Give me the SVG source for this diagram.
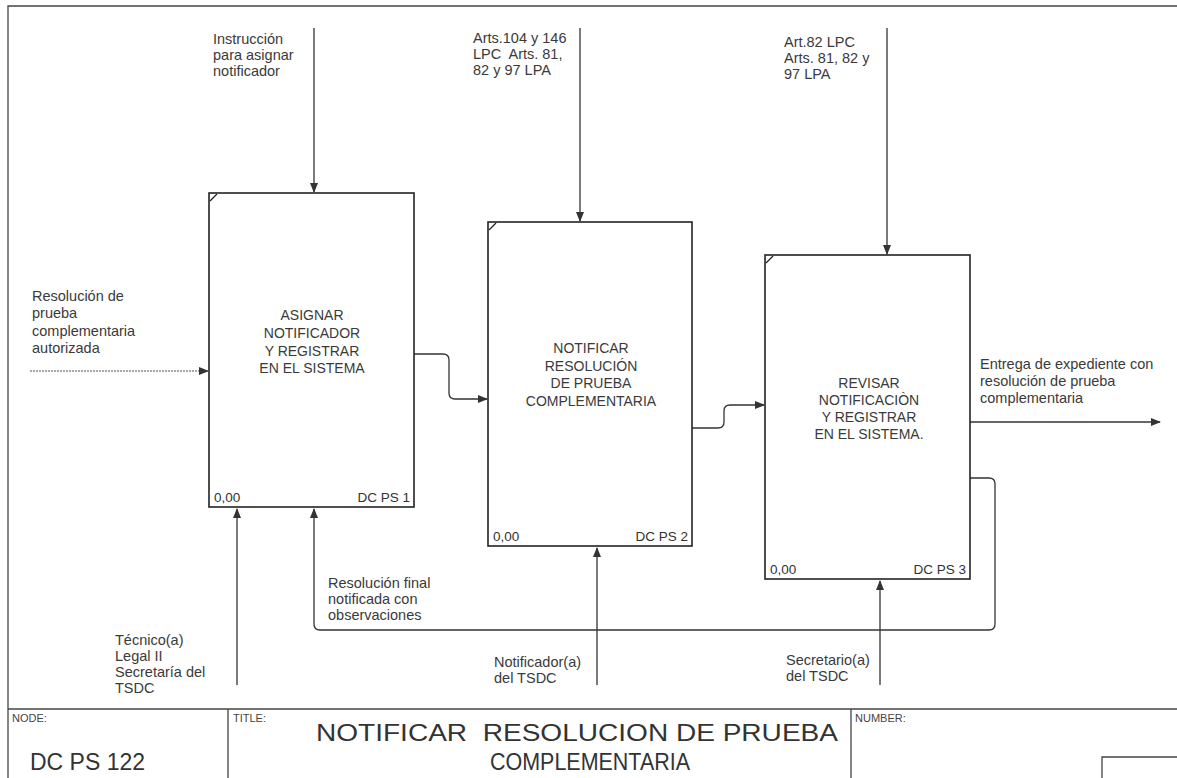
<svg xmlns="http://www.w3.org/2000/svg" width="1177" height="778" viewBox="0 0 1177 778">
<defs>
<marker id="ah" markerWidth="10" markerHeight="8" refX="9" refY="4" orient="auto" markerUnits="userSpaceOnUse">
<path d="M0,0 L10,4 L0,8 Z" fill="#333"/>
</marker>
<style>
.frame{fill:none;stroke:#444;stroke-width:1.3}
.box{fill:#fff;stroke:#222;stroke-width:1.6}
.tick{fill:none;stroke:#222;stroke-width:1.2}
.c{fill:none;stroke:#333;stroke-width:1.3;marker-end:url(#ah)}
.cl{fill:none;stroke:#555;stroke-width:1.1;marker-end:url(#ah)}
.lbl{font-family:"Liberation Sans",Arial,sans-serif;font-size:14.5px;fill:#3a3a3a}
.bt{font-family:"Liberation Sans",Arial,sans-serif;font-size:14px;fill:#3a3a3a;text-anchor:middle}
.corner{font-family:"Liberation Sans",Arial,sans-serif;font-size:13.5px;fill:#333}
.small{font-family:"Liberation Sans",Arial,sans-serif;font-size:11px;fill:#444}
.big{font-family:"Liberation Sans",Arial,sans-serif;font-size:23px;fill:#333}
</style>
</defs>
<rect width="1177" height="778" fill="#fff"/>

<g id="frame">
<path class="frame" d="M1177,6 L8,6 L8,778"/>
<line class="frame" x1="8" y1="709" x2="1177" y2="709"/>
<line class="frame" x1="228" y1="709" x2="228" y2="778"/>
<line class="frame" x1="851" y1="709" x2="851" y2="778"/>
<path class="frame" d="M1102,778 L1102,757 L1177,757"/>
<text class="small" x="12" y="722">NODE:</text>
<text class="big" x="30" y="770">DC PS 122</text>
<text class="small" x="233" y="722">TITLE:</text>
<text class="big" x="316" y="741" textLength="522" lengthAdjust="spacingAndGlyphs">NOTIFICAR&#160; RESOLUCION DE PRUEBA</text>
<text class="big" x="490" y="770" textLength="200" lengthAdjust="spacingAndGlyphs">COMPLEMENTARIA</text>
<text class="small" x="855" y="722">NUMBER:</text>
</g>

<g id="connectors">
<line class="c" x1="314" y1="28" x2="314" y2="192"/>
<line class="c" x1="580" y1="28" x2="580" y2="221"/>
<line class="c" x1="887" y1="28" x2="887" y2="254"/>
<line class="cl" x1="30" y1="371" x2="208" y2="371" stroke-dasharray="2,1"/>
<path class="c" d="M414,354 L443,354 Q449,354 449,360 L449,393 Q449,399 455,399 L487,399"/>
<path class="c" d="M692,428 L718,428 Q724,428 724,422 L724,411 Q724,405 730,405 L764,405"/>
<line class="c" x1="970" y1="422" x2="1160" y2="422"/>
<path class="c" d="M970,478 L989,478 Q995,478 995,484 L995,624 Q995,630 989,630 L320,630 Q314,630 314,624 L314,509"/>
<line class="c" x1="237" y1="685" x2="237" y2="509"/>
<line class="c" x1="597" y1="685" x2="597" y2="548"/>
<line class="c" x1="880" y1="685" x2="880" y2="581"/>
</g>

<g id="n1">
<rect class="box" x="209" y="193" width="205" height="314"/>
<path class="tick" d="M210,201 L217,194"/>
<text class="bt" x="312" y="320">ASIGNAR</text>
<text class="bt" x="312" y="338">NOTIFICADOR</text>
<text class="bt" x="312" y="356">Y REGISTRAR</text>
<text class="bt" x="312" y="373">EN EL SISTEMA</text>
<text class="corner" x="214" y="502">0,00</text>
<text class="corner" x="410" y="502" text-anchor="end">DC PS 1</text>
</g>

<g id="n2">
<rect class="box" x="488" y="222" width="204" height="324"/>
<path class="tick" d="M489,230 L496,223"/>
<text class="bt" x="591" y="353">NOTIFICAR</text>
<text class="bt" x="591" y="371">RESOLUCIÓN</text>
<text class="bt" x="591" y="388">DE PRUEBA</text>
<text class="bt" x="591" y="406">COMPLEMENTARIA</text>
<text class="corner" x="493" y="541">0,00</text>
<text class="corner" x="688" y="541" text-anchor="end">DC PS 2</text>
</g>

<g id="n3">
<rect class="box" x="765" y="255" width="205" height="324"/>
<path class="tick" d="M766,263 L773,256"/>
<text class="bt" x="869" y="388">REVISAR</text>
<text class="bt" x="869" y="405">NOTIFICACIÒN</text>
<text class="bt" x="869" y="422">Y REGISTRAR</text>
<text class="bt" x="869" y="439">EN EL SISTEMA.</text>
<text class="corner" x="770" y="574">0,00</text>
<text class="corner" x="966" y="574" text-anchor="end">DC PS 3</text>
</g>

<g id="labels">
<text class="lbl" x="213" y="44">Instrucción</text>
<text class="lbl" x="213" y="60">para asignar</text>
<text class="lbl" x="213" y="76">notificador</text>

<text class="lbl" x="473" y="43">Arts.104 y 146</text>
<text class="lbl" x="473" y="59">LPC&#160; Arts. 81,</text>
<text class="lbl" x="473" y="75">82 y 97 LPA</text>

<text class="lbl" x="784" y="47">Art.82 LPC</text>
<text class="lbl" x="784" y="63">Arts. 81, 82 y</text>
<text class="lbl" x="784" y="79">97 LPA</text>

<text class="lbl" x="32" y="301">Resolución de</text>
<text class="lbl" x="32" y="318">prueba</text>
<text class="lbl" x="32" y="336">complementaria</text>
<text class="lbl" x="32" y="353">autorizada</text>

<text class="lbl" x="980" y="369">Entrega de expediente con</text>
<text class="lbl" x="980" y="386">resolución de prueba</text>
<text class="lbl" x="980" y="403">complementaria</text>

<text class="lbl" x="328" y="588">Resolución final</text>
<text class="lbl" x="328" y="604">notificada con</text>
<text class="lbl" x="328" y="620">observaciones</text>

<text class="lbl" x="115" y="645">Técnico(a)</text>
<text class="lbl" x="115" y="661">Legal II</text>
<text class="lbl" x="115" y="677">Secretaría del</text>
<text class="lbl" x="115" y="693">TSDC</text>

<text class="lbl" x="494" y="667">Notificador(a)</text>
<text class="lbl" x="494" y="683">del TSDC</text>

<text class="lbl" x="786" y="665">Secretario(a)</text>
<text class="lbl" x="786" y="681">del TSDC</text>
</g>
</svg>
